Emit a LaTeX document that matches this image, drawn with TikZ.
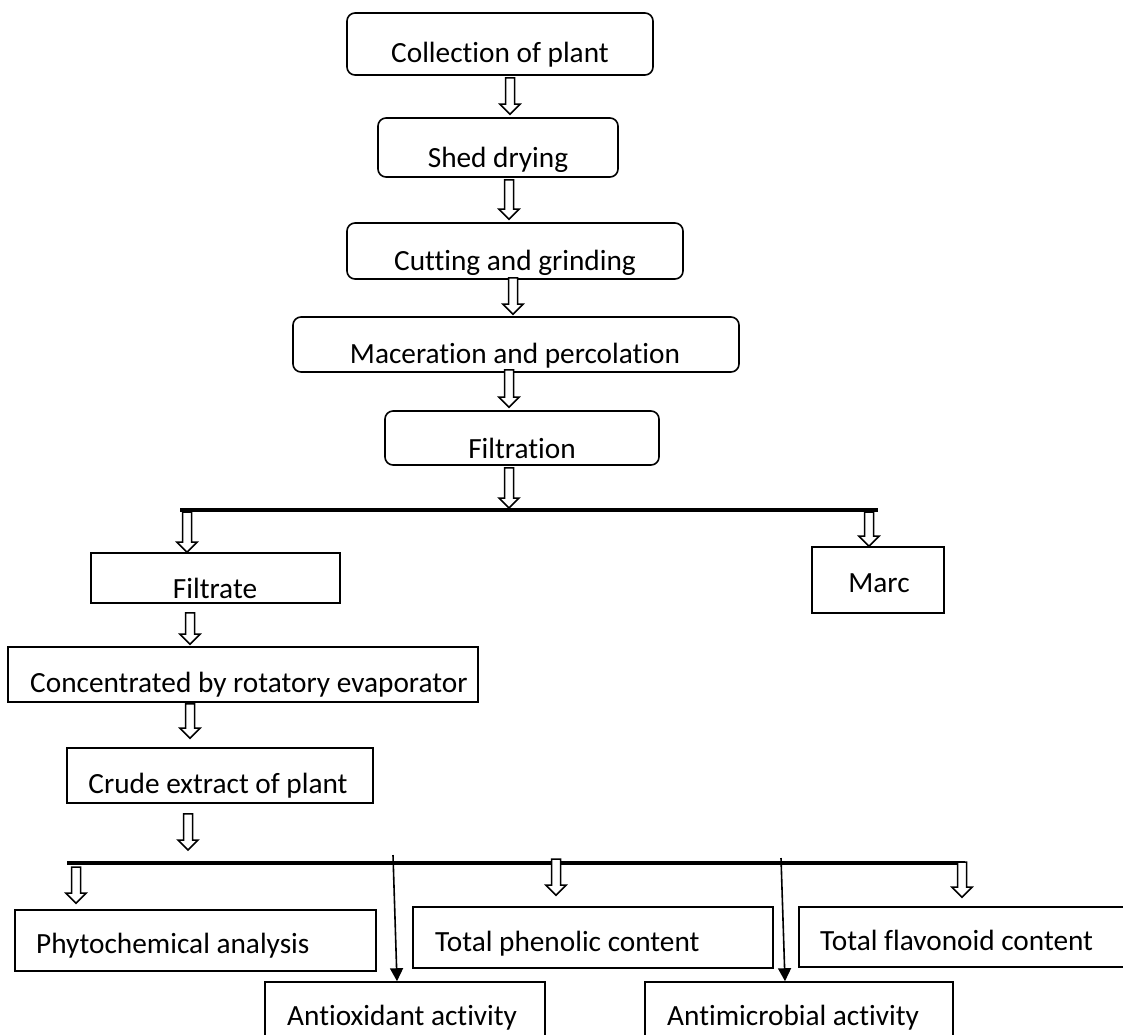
\documentclass[tikz,border=0pt]{standalone}
\usepackage{fontspec}
\setmainfont{Carlito}[Ligatures=NoCommon]
\usetikzlibrary{calc,arrows.meta}
\newcommand\hollowarr[2]{%
  \path #1 coordinate (ha) #2 coordinate (hb);
  \draw[harrow] ($(ha)+(-4.5pt,0)$) -- ($(hb)+(-4.5pt,10pt)$) -- ($(hb)+(-10pt,10pt)$) -- (hb)
    -- ($(hb)+(10pt,10pt)$) -- ($(hb)+(4.5pt,10pt)$) -- ($(ha)+(4.5pt,0)$) -- cycle;}
\begin{document}
\begin{tikzpicture}[x=1pt,y=-1pt,
  rbox/.style={draw,line width=1.6pt,rounded corners=8pt,inner sep=0pt},
  sbox/.style={draw,line width=1.6pt,inner sep=0pt},
  txt/.style={inner sep=0pt,font=\fontsize{29.3}{34}\selectfont},
  harrow/.style={draw,fill=white,line width=1.5pt,line join=miter},
  bar/.style={line width=4pt},
  sarrow/.style={line width=1.6pt,-{Triangle[length=13pt,width=13pt]}}]
\clip (0,0) rectangle (1123,1034);
\fill[white] (0,0) rectangle (1123,1034);

% boxes
\node[rbox,minimum width=306,minimum height=62] (coll) at (500,44) {};
\node[rbox,minimum width=240,minimum height=59] (shed) at (498,147.5) {};
\node[rbox,minimum width=336,minimum height=56] (cut) at (515,251) {};
\node[rbox,minimum width=446,minimum height=55] (mac) at (516,344.5) {};
\node[rbox,minimum width=274,minimum height=54] (filt) at (522,438) {};
\node[sbox,minimum width=249,minimum height=50] (filtrate) at (215.5,578) {};
\node[sbox,minimum width=132,minimum height=66] (marc) at (878,580) {};
\node[sbox,minimum width=470,minimum height=55] (conc) at (243,674.5) {};
\node[sbox,minimum width=306,minimum height=55] (crude) at (220,775.5) {};
\node[sbox,minimum width=361,minimum height=61] (phyto) at (195.5,940.5) {};
\node[sbox,minimum width=360,minimum height=61] (phen) at (593,937.5) {};
\node[sbox,minimum width=336,minimum height=60] (flav) at (967,937) {};
\node[sbox,minimum width=280,minimum height=78] (antiox) at (405,1021) {};
\node[sbox,minimum width=308,minimum height=78] (antimic) at (799,1021) {};

% texts
\node[txt,anchor=base] (t1) at (500,62) {Collection of plant};
\node[txt,anchor=base] (t2) at (498,167) {Shed drying};
\node[txt,anchor=base] (t3) at (515,270) {Cutting and grinding};
\node[txt,anchor=base] (t4) at (515,363) {Maceration and percolation};
\node[txt,anchor=base] (t5) at (522,458) {Filtration};
\node[txt,anchor=base] (t6) at (215,598) {Filtrate};
\node[txt,anchor=base] (t7) at (879,592) {Marc};
\node[txt,anchor=base west] (t8) at (30,692) {Concentrated by rotatory evaporator};
\node[txt,anchor=base] (t9) at (218,793) {Crude extract of plant};
\node[txt,anchor=base west] (t10) at (36,953) {Phytochemical analysis};
\node[txt,anchor=base west] (t11) at (435,951) {Total phenolic content};
\node[txt,anchor=base west] (t12) at (820,950) {Total flavonoid content};
\node[txt,anchor=base west] (t13) at (287,1025) {Antioxidant activity};
\node[txt,anchor=base west] (t14) at (667,1025) {Antimicrobial activity};

% bars
\coordinate (b1L) at (180,510);
\coordinate (b1R) at (878,510);
\coordinate (b2L) at (67,863);
\coordinate (b2R) at (965,863);
\draw[bar] (b1L) -- (b1R);
\draw[bar] (b2L) -- (b2R);

% bar arrow ends
\coordinate (f5) at (509,508);
\coordinate (f6) at (187,512);
\coordinate (f7) at (869,512);
\coordinate (c10) at (188,850);
\coordinate (c11) at (76,867);
\coordinate (c12) at (556,859);
\coordinate (c13) at (962,862);
\coordinate (s1) at (393,855);
\coordinate (s2) at (781,858);

% hollow arrows
\hollowarr{([xshift=10pt,yshift=-2pt]coll.south)}{([xshift=12pt,yshift=3pt]shed.north)}
\hollowarr{([xshift=11pt,yshift=-2pt]shed.south)}{([xshift=-6pt,yshift=3pt]cut.north)}
\hollowarr{([xshift=-2pt,yshift=2pt]cut.south)}{([xshift=-3pt,yshift=2pt]mac.north)}
\hollowarr{([xshift=-7pt,yshift=3pt]mac.south)}{([xshift=-13pt,yshift=3pt]filt.north)}
\hollowarr{([xshift=-13pt,yshift=-2pt]filt.south)}{(f5)}
\hollowarr{(f6)}{([xshift=-28.5pt]filtrate.north)}
\hollowarr{(f7)}{([xshift=-9pt]marc.north)}
\hollowarr{([xshift=-25.5pt,yshift=-9pt]filtrate.south)}{([xshift=-53pt,yshift=2pt]conc.north)}
\hollowarr{([xshift=-53pt,yshift=-1pt]conc.south)}{([xshift=-30pt,yshift=9pt]crude.north)}
\hollowarr{([xshift=-32pt,yshift=-10pt]crude.south)}{(c10)}
\hollowarr{(c11)}{([xshift=-119.5pt,yshift=6pt]phyto.north)}
\hollowarr{(c12)}{([xshift=-37pt,yshift=11pt]phen.north)}
\hollowarr{(c13)}{([xshift=-5pt,yshift=9pt]flav.north)}

% solid arrows
\draw[sarrow] (s1) -- ([xshift=-8pt]antiox.north);
\draw[sarrow] (s2) -- ([xshift=-14pt]antimic.north);
\end{tikzpicture}
\end{document}
